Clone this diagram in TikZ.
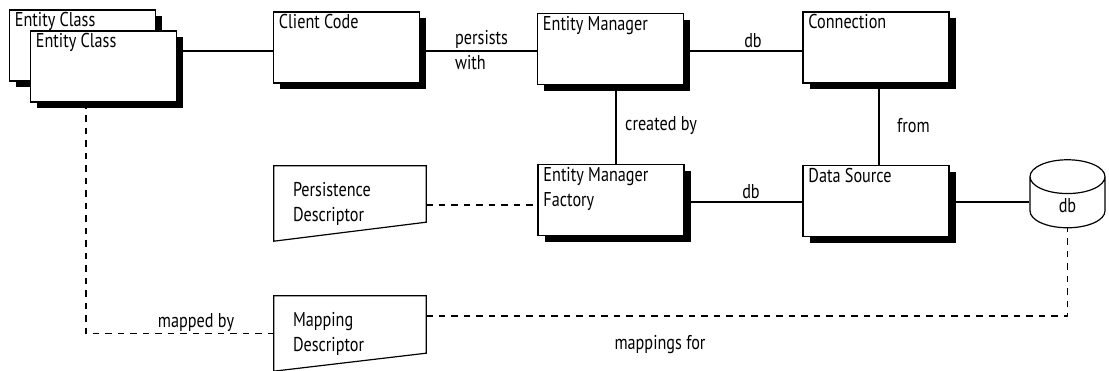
\documentclass[tikz,border=0pt]{standalone}
\usepackage{fontspec}
\setmainfont[FakeStretch=0.81]{PT Sans}
\usetikzlibrary{shapes.geometric,shadows}

\tikzset{
  every node/.style={font=\fontsize{20}{25}\selectfont},
  obj/.style={draw, line width=1.5pt, fill=white, minimum width=146pt, minimum height=71pt,
    drop shadow={shadow xshift=6.5pt, shadow yshift=-6.5pt, fill=black, opacity=1},
    label={[anchor=north west, inner sep=0pt, align=left, xshift=6pt, yshift=-3pt]north west:#1}},
  doc/.style={minimum width=152pt, minimum height=75pt, text width=114pt, inner xsep=19pt, align=left},
  docline/.style={line width=1.2pt},
  link/.style={line width=1.5pt},
  maplink/.style={line width=1.6pt, dash pattern=on 6.5pt off 6pt},
  tag/.style={inner sep=1pt, align=left}
}

\begin{document}
\begin{tikzpicture}[x=1pt, y=-1pt]
    \useasboundingbox (0,0) rectangle (1109,371);
    % classes and runtime objects
    \node[obj=Entity Class] (ecback) at (82.5,45.5) {};
    \node[obj=Entity Class] (ecfront) at (103.5,66.5) {};
    \node[obj=Client Code] (cc) at (346.5,47.5) {};
    \node[obj=Entity Manager] (em) at (610.5,49) {};
    \node[obj=Connection] (con) at (876,47.5) {};
    \node[obj={Entity Manager\\Factory}] (emf) at (611,200) {};
    \node[obj=Data Source] (ds) at (876,201) {};
    \node[cylinder, shape border rotate=90, draw, line width=1.2pt, minimum width=75pt,
          minimum height=68pt, aspect=1.4, text depth=-6pt] (db) at (1067.5,206) {db};
    % descriptors
    \node[doc] (pd) at (350,203.5) {Persistence\\Descriptor};
    \draw[docline] (pd.north west) -- (pd.north east) -- ([yshift=19pt]pd.south east) -- (pd.south west) -- cycle;
    \node[doc] (md) at (350,333.5) {Mapping\\Descriptor};
    \draw[docline] (md.north west) -- (md.north east) -- ([yshift=18pt]md.south east) -- (md.south west) -- cycle;
    % attach points
    \coordinate (ccw) at ([yshift=-3.5pt]cc.west);
    \coordinate (emw) at ([yshift=-2pt]em.west);
    \coordinate (conw) at ([yshift=-3.5pt]con.west);
    \coordinate (ems) at ([xshift=5.5pt]em.south);
    \coordinate (cons) at ([xshift=3pt]con.south);
    \coordinate (dsw) at ([yshift=-1pt]ds.west);
    \coordinate (dse) at ([yshift=-1pt]ds.east);
    \coordinate (pde) at ([yshift=-1.5pt]pd.east);
    \coordinate (ecs) at ([xshift=-17.5pt]ecfront.south);
    \coordinate (mde) at ([yshift=17.5pt]md.east);
    % solid links
    \draw[link] (ecfront.east |- ccw) -- (ccw);
    \draw[link] (cc.east |- emw) -- (emw);
    \draw[link] (em.east |- conw) -- (conw);
    \draw[link] (ems) -- (ems |- emf.north);
    \draw[link] (cons) -- (cons |- ds.north);
    \draw[link] (emf.east |- dsw) -- (dsw);
    \draw[link] (dse) -- (dse -| db.west);
    % dashed links
    \draw[maplink] (pde) -- (pde -| emf.west);
    \draw[maplink] (ecs) |- (md.west);
    \draw[maplink] (mde) -| (db.south);
    % link labels
    \node[tag, anchor=west] (lpersist) at (454,50) {persists\\with};
    \node[tag, anchor=south] (ldbtop) at (753,49) {db};
    \node[tag, anchor=west] (lcreated) at (624,126) {created by};
    \node[tag, anchor=west] (lfrom) at (896,126) {from};
    \node[tag, anchor=south] (ldbmid) at (751,200) {db};
    \node[tag, anchor=south] (lmapped) at (196,333) {mapped by};
    \node[tag] (lmappings) at (660,345) {mappings for};
\end{tikzpicture}
\end{document}
